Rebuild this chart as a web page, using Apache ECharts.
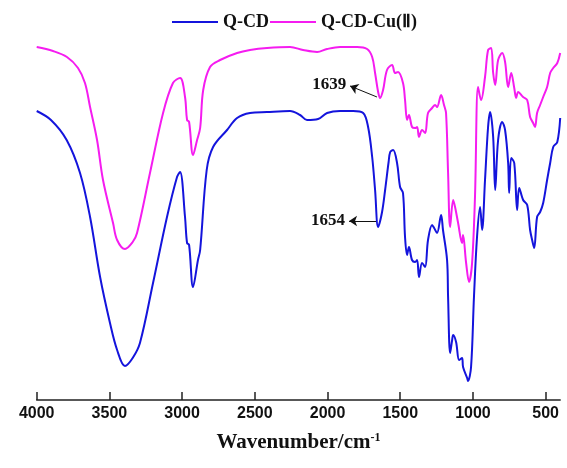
<!DOCTYPE html>
<html>
<head>
<meta charset="utf-8">
<script src="https://cdn.jsdelivr.net/npm/echarts@6/dist/echarts.min.js"></script>
<style>html,body{margin:0;padding:0;background:#fff;}#c{width:567px;height:468px;}</style>
</head>
<body>
<div id="c"></div>
<script>
var seriesNames = ['Q-CD', 'Q-CD-Cu(Ⅱ)'];
var tickLabels = [4000, 3500, 3000, 2500, 2000, 1500, 1000, 500];

var qcdWave = [4000,3902,3794,3702,3633,3564,3496,3447,3393,3340,3290,3200,3104,3035,3014,2980,2966,2952,2925,2891,2876,2831,2787,2691,2622,2533,2416,2258,2189,2141,2065,2003,1914,1824,1755,1721,1693,1673,1652,1625,1604,1580,1569,1549,1522,1501,1481,1467,1453,1440,1419,1398,1384,1371,1350,1329,1309,1281,1267,1247,1219,1206,1178,1171,1157,1143,1136,1116,1095,1075,1068,1040,1034,1013,993,972,951,937,917,896,882,861,847,827,799,779,758,751,737,716,696,682,655,627,607,593,579,559,538,517,490,469,448,420,400];
var qcdT = [289,280,260,227,183,123,77,50,34,42,57,117,183,223,228,183,157,155,113,140,150,230,253,270,282,287,288,289,285,280,281,287,289,289,287,273,243,210,173,188,210,238,248,250,237,213,207,163,145,153,140,138,140,123,137,133,160,175,172,167,185,170,140,103,47,60,65,58,40,42,33,22,19,33,103,163,193,170,220,273,288,263,210,260,278,270,237,207,242,237,190,212,200,195,170,160,152,183,188,197,220,237,253,258,282];

var cuWave = [4000,3888,3792,3716,3668,3633,3585,3544,3475,3447,3393,3340,3310,3221,3131,3063,3014,2980,2966,2952,2925,2897,2876,2855,2808,2739,2622,2533,2416,2258,2168,2072,2003,1914,1797,1728,1693,1673,1652,1639,1618,1591,1556,1536,1515,1481,1467,1453,1440,1419,1398,1384,1371,1350,1329,1309,1281,1260,1247,1219,1199,1185,1171,1157,1136,1123,1102,1075,1068,1047,1027,1006,986,965,944,917,896,875,861,847,827,799,779,758,737,716,703,689,655,627,607,586,573,559,538,517,490,469,448,420,400];
var cuT = [353,349,343,332,317,293,260,220,177,160,151,158,167,227,287,317,322,303,280,278,245,260,272,310,333,340,347,350,352,353,350,348,351,353,353,351,343,327,308,302,310,330,335,327,328,317,300,280,285,273,272,273,263,270,267,287,292,295,293,305,295,287,227,173,200,193,177,157,165,137,118,137,203,313,300,323,350,352,327,315,340,347,338,313,327,312,302,308,303,300,283,277,273,287,295,303,313,327,332,337,347];

function pairs(xs, ys) { return xs.map(function (x, i) { return [x, ys[i]]; }); }

var chart = echarts.init(document.getElementById('c'), null, {renderer: 'canvas'});
var annLabel = {show: true, position: 'end', distance: 4, fontFamily: 'Liberation Serif', fontWeight: 'bold', fontSize: 17, color: '#111'};
chart.setOption({
  animation: false,
  backgroundColor: '#fff',
  legend: {
    left: 167, top: 8,
    itemWidth: 46, itemHeight: 2, itemGap: 1,
    icon: 'rect',
    data: seriesNames,
    textStyle: {fontFamily: 'Liberation Serif', fontWeight: 'bold', fontSize: 18, color: '#111'}
  },
  grid: {left: 36.7, right: 6.8, top: 30, bottom: 68},
  xAxis: {
    type: 'value', inverse: true, min: 400, max: 4000,
    axisLine: {lineStyle: {color: '#222', width: 1.5}},
    axisTick: {inside: true, length: 8, lineStyle: {color: '#222', width: 1.5}, customValues: tickLabels},
    axisLabel: {customValues: tickLabels, margin: 6, formatter: function (v) { return String(v); }, fontFamily: 'Liberation Sans', fontWeight: 'bold', fontSize: 16, color: '#111'},
    splitLine: {show: false},
    name: '{a|Wavenumber/cm}{s|-1}',
    nameLocation: 'middle', nameGap: 32,
    nameTextStyle: {
      rich: {
        a: {fontFamily: 'Liberation Serif', fontWeight: 'bold', fontSize: 21, color: '#111'},
        s: {fontFamily: 'Liberation Serif', fontWeight: 'bold', fontSize: 12, color: '#111', padding: [0, 0, 10, 0]}
      }
    }
  },
  yAxis: {type: 'value', min: 0, max: 370, show: false},
  series: [
    {
      name: seriesNames[0], type: 'line', data: pairs(qcdWave, qcdT),
      showSymbol: false, smooth: 0.35,
      lineStyle: {color: '#1414dc', width: 2}, itemStyle: {color: '#1414dc'},
      markLine: {
        silent: true, symbol: ['none', 'arrow'], symbolSize: 8,
        lineStyle: {color: '#111', width: 1, type: 'solid'},
        label: Object.assign({formatter: '1654'}, annLabel),
        data: [[{coord: [1666, 179]}, {coord: [1852, 179]}]]
      }
    },
    {
      name: seriesNames[1], type: 'line', data: pairs(cuWave, cuT),
      showSymbol: false, smooth: 0.35,
      lineStyle: {color: '#f51cf0', width: 2}, itemStyle: {color: '#f51cf0'},
      markLine: {
        silent: true, symbol: ['none', 'arrow'], symbolSize: 8,
        lineStyle: {color: '#111', width: 1, type: 'solid'},
        label: Object.assign({formatter: '1639'}, annLabel),
        data: [[{coord: [1660, 303]}, {coord: [1845, 314]}]]
      }
    }
  ]
});
</script>
</body>
</html>
